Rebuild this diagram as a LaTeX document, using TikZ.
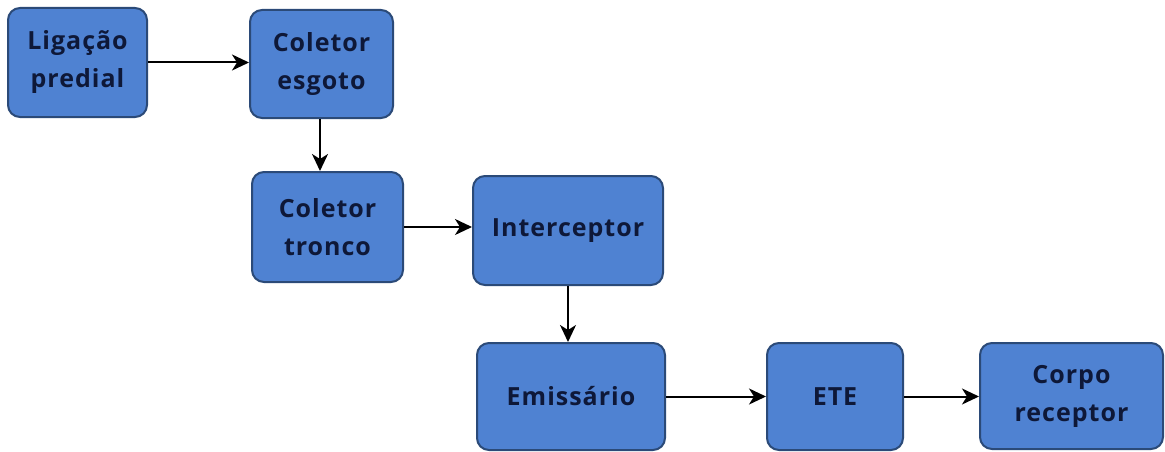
\documentclass[tikz,border=0pt]{standalone}
\usepackage{fontspec}
\setmainfont{Open Sans}[LetterSpace=4]
\usetikzlibrary{arrows.meta}
\definecolor{boxfill}{HTML}{4F82D2}
\definecolor{boxline}{HTML}{2B4A78}
\definecolor{boxtext}{HTML}{0E1838}
\begin{document}
\begin{tikzpicture}[x=1pt,y=-1pt,
  stage/.style={draw=boxline, line width=2pt, fill=boxfill, rounded corners=12pt,
    inner sep=0pt, align=center, text=boxtext,
    font=\fontsize{25}{38}\selectfont\bfseries},
  flow/.style={line width=2pt, -{Stealth[length=17pt,width=16pt,inset=5pt]}}]
\useasboundingbox (0,0) rectangle (1165,452);
\fill[white] (0,0) rectangle (1165,452);
\node[stage, minimum width=139pt, minimum height=109pt] (lig) at (77.5,62.5) {Ligação\\predial};
\node[stage, minimum width=143pt, minimum height=108pt] (ce) at (321.5,64) {Coletor\\esgoto};
\node[stage, minimum width=151pt, minimum height=110pt] (ct) at (327.5,227) {Coletor\\tronco};
\node[stage, minimum width=190pt, minimum height=109pt] (int) at (568,230.5) {Interceptor};
\node[stage, minimum width=188pt, minimum height=107pt] (em) at (571,396.5) {Emissário};
\node[stage, minimum width=136pt, minimum height=107pt] (ete) at (835,396.5) {ETE};
\node[stage, minimum width=183pt, minimum height=106pt] (cr) at (1071.5,396) {Corpo\\receptor};
\draw[flow] (lig.east) -- (lig.east -| ce.west);
\draw[flow] ([xshift=-1.5pt]ce.south) -- ([xshift=-1.5pt]ce.south |- ct.north);
\draw[flow] (ct.east) -- (ct.east -| int.west);
\draw[flow] (int.south) -- (int.south |- em.north);
\draw[flow] (em.east) -- (em.east -| ete.west);
\draw[flow] (ete.east) -- (ete.east -| cr.west);
\end{tikzpicture}
\end{document}
